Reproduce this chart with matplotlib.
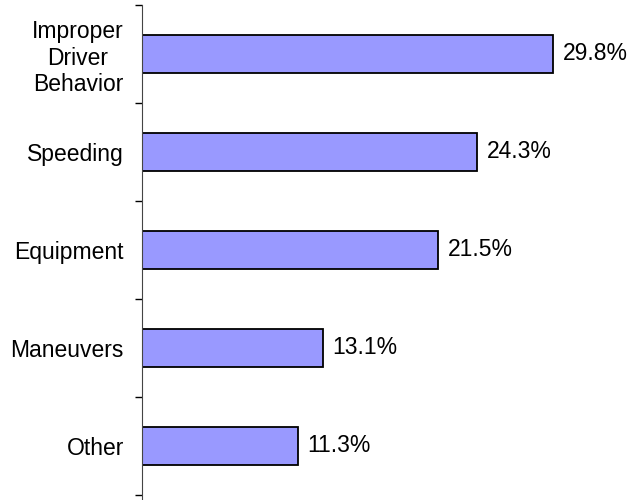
import numpy as np
import matplotlib
matplotlib.use('Agg')
from matplotlib import pyplot as plt

categories = ['Improper\nDriver\nBehavior', 'Speeding', 'Equipment', 'Maneuvers', 'Other']
values = [29.8, 24.3, 21.5, 13.1, 11.3]

plt.rcParams['font.family'] = ['Liberation Sans', 'DejaVu Sans']

fig = plt.figure(figsize=(6.34, 5.0), dpi=100)
ax = fig.add_axes([142 / 634, 0, 492 / 634, 0.99])

y = np.arange(len(values))[::-1]
ax.barh(y, values, height=0.39, color='#9999FF', edgecolor='black', linewidth=1.3)

for yi, v in zip(y, values):
    ax.text(v + 0.7, yi, '%.1f%%' % v, va='center', ha='left', fontsize=16.5)

ax.set_xlim(0, 492 / 13.79)
ax.set_ylim(-0.5 - 5 / 98, 4.5)

ax.set_yticks(y)
ax.set_yticklabels(categories, fontsize=16.5, multialignment='center')
ax.tick_params(axis='y', which='major', length=0, pad=13)
ax.set_yticks(np.arange(-0.5, 5, 1), minor=True)
ax.tick_params(axis='y', which='minor', length=5, width=1, direction='out')

ax.set_xticks([])
for s in ['top', 'right', 'bottom']:
    ax.spines[s].set_visible(False)
ax.spines['left'].set_color('#444444')

fig.savefig('out.png', dpi=100)
